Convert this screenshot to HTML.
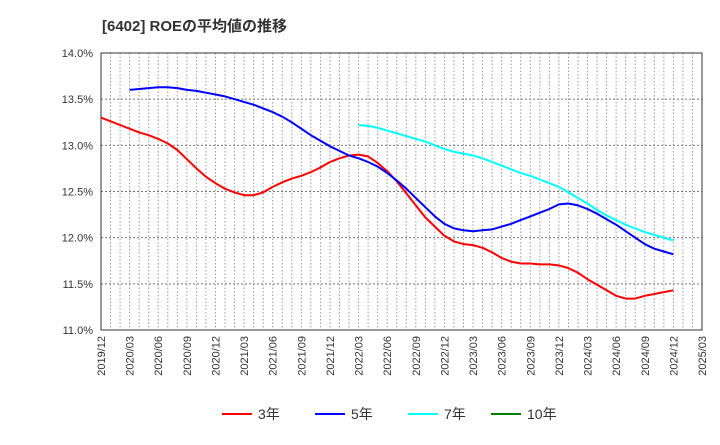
<!DOCTYPE html>
<html><head><meta charset="utf-8"><style>
body{margin:0;background:#fff;font-family:"Liberation Sans","Noto Sans CJK JP",sans-serif}
</style></head><body>
<svg width="720" height="440" xmlns="http://www.w3.org/2000/svg" font-family="Liberation Sans, Noto Sans CJK JP, sans-serif">
<text x="102" y="31" font-size="15" font-weight="bold" fill="#333">[6402]  ROEの平均値の推移</text>
<g id="grid"></g><g id="axes"></g><g id="series"></g><g id="legend"></g>
</svg>
<script>
const yTicks=[11.0,11.5,12.0,12.5,13.0,13.5,14.0];
const xTickLabels=["2019/12","2020/03","2020/06","2020/09","2020/12","2021/03","2021/06","2021/09","2021/12","2022/03","2022/06","2022/09","2022/12","2023/03","2023/06","2023/09","2023/12","2024/03","2024/06","2024/09","2024/12","2025/03"];
const s3Start=0;
const s3=[13.30,13.26,13.22,13.18,13.14,13.11,13.07,13.02,12.95,12.85,12.75,12.66,12.59,12.53,12.49,12.46,12.46,12.49,12.55,12.60,12.64,12.67,12.71,12.76,12.82,12.86,12.89,12.90,12.88,12.81,12.72,12.61,12.48,12.35,12.22,12.12,12.02,11.96,11.93,11.92,11.89,11.84,11.78,11.74,11.72,11.72,11.71,11.71,11.70,11.67,11.62,11.55,11.49,11.43,11.37,11.34,11.34,11.37,11.39,11.41,11.43];
const s5Start=3;
const s5=[13.60,13.61,13.62,13.63,13.63,13.62,13.60,13.59,13.57,13.55,13.53,13.50,13.47,13.44,13.40,13.36,13.31,13.25,13.18,13.11,13.05,12.99,12.94,12.89,12.86,12.82,12.77,12.70,12.62,12.53,12.43,12.33,12.23,12.15,12.10,12.08,12.07,12.08,12.09,12.12,12.15,12.19,12.23,12.27,12.31,12.36,12.37,12.35,12.31,12.26,12.20,12.14,12.07,12.00,11.93,11.88,11.85,11.82];
const s7Start=27;
const s7=[13.22,13.21,13.19,13.16,13.13,13.10,13.07,13.04,13.00,12.96,12.93,12.91,12.89,12.86,12.82,12.78,12.74,12.70,12.67,12.63,12.59,12.55,12.49,12.43,12.37,12.30,12.24,12.19,12.14,12.10,12.06,12.03,12.00,11.97];
const legendNames=["3年","5年","7年","10年"];
const legendColors=["#ff0000","#0000ff","#00ffff","#008000"];
const L=101,R=702,T=53,B=330,NM=63;
const x=m=>L+(R-L)*m/NM, y=v=>B-(v-11)/3*(B-T);
const NS="http://www.w3.org/2000/svg";
function mk(t,a,p){const e=document.createElementNS(NS,t);for(const k in a)e.setAttribute(k,a[k]);p.appendChild(e);return e;}
const g=document.getElementById('grid'),ax=document.getElementById('axes'),sr=document.getElementById('series'),lg=document.getElementById('legend');
for(let m=1;m<NM;m++){const l=mk('line',{x1:x(m),x2:x(m),y1:T,y2:B,stroke:'#999','stroke-dasharray':'1.5,2','stroke-width':1},g);

}
yTicks.forEach(v=>{const l=mk('line',{x1:L,x2:R,y1:y(v),y2:y(v),stroke:'#777','stroke-dasharray':'2,2','stroke-width':1},g);


const t=mk('text',{x:L-8,y:y(v)+4,'text-anchor':'end','font-size':11,fill:'#333'},ax);t.textContent=v.toFixed(1)+'%';

});
xTickLabels.forEach((s,i)=>{const xx=x(i*3);const t=mk('text',{x:xx+4,y:B+6,'text-anchor':'end','font-size':11,fill:'#333',transform:`rotate(-90 ${xx+4} ${B+6})`},ax);t.textContent=s;

});
const fr=mk('rect',{x:L,y:T,width:R-L,height:B-T,fill:'none',stroke:'#333','stroke-width':1},ax);


function line(arr,st,col,name){const d=arr.map((v,i)=>(i?'L':'M')+x(st+i).toFixed(1)+','+y(v).toFixed(1)).join('');
const p=mk('path',{d:d,fill:'none',stroke:col,'stroke-width':2,'stroke-linejoin':'round'},sr);

}
line(s3,s3Start,legendColors[0],'series-3yr');
line(s5,s5Start,legendColors[1],'series-5yr');
line(s7,s7Start,legendColors[2],'series-7yr');
const lx=[222,315,408,491];
legendNames.forEach((n,i)=>{const gg=mk('g',{},lg);


mk('line',{x1:lx[i],x2:lx[i]+30,y1:414,y2:414,stroke:legendColors[i],'stroke-width':2},gg);
const t=mk('text',{x:lx[i]+36,y:419,'font-size':14,fill:'#333'},gg);t.textContent=n;});
</script>
</body></html>
